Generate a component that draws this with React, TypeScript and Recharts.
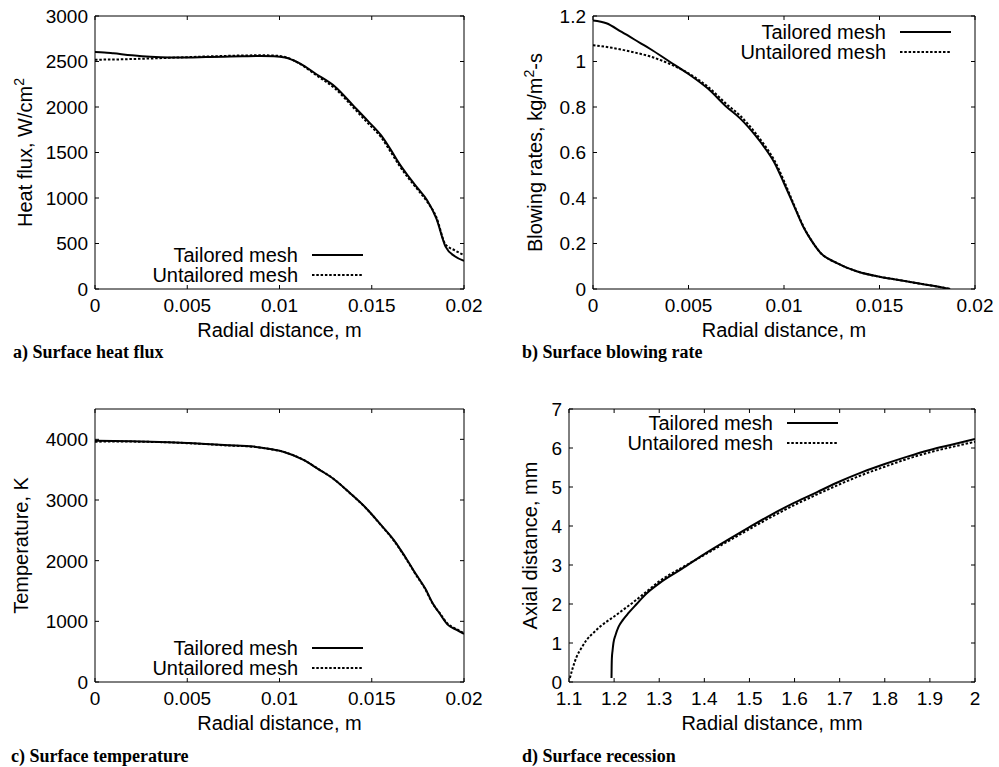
import { LineChart, Line, XAxis, YAxis, Legend, ReferenceLine } from 'recharts'

const SANS = '"Liberation Sans", Arial, Helvetica, sans-serif'
const SERIF = '"Liberation Serif", "Times New Roman", serif'
const TICK_FS = 19
const LABEL_FS = 20
const X_TM = 9 // gap between plot bottom and x tick labels
const Y_TM = 7 // gap between plot left and y tick labels
const TICK_LEN = 4

// a) surface heat flux
const heatTailoredX = [0, 0.0005, 0.001, 0.002, 0.003, 0.004, 0.005, 0.006, 0.007, 0.008, 0.009, 0.0097, 0.0103, 0.0111, 0.012, 0.013, 0.014, 0.0148, 0.0155, 0.016, 0.0165, 0.017, 0.0175, 0.018, 0.0185, 0.019, 0.0195, 0.02]
const heatTailoredY = [2605, 2600, 2590, 2568, 2552, 2545, 2545, 2549, 2553, 2557, 2560, 2558, 2545, 2480, 2360, 2225, 2015, 1845, 1690, 1540, 1375, 1235, 1105, 975, 775, 465, 360, 310]
const heatUntailoredX = [0, 0.001, 0.002, 0.003, 0.004, 0.005, 0.006, 0.007, 0.008, 0.009, 0.0097, 0.0103, 0.0111, 0.012, 0.013, 0.014, 0.0148, 0.0155, 0.016, 0.0165, 0.017, 0.0175, 0.018, 0.0185, 0.019, 0.0195, 0.02]
const heatUntailoredY = [2520, 2522, 2527, 2533, 2540, 2548, 2555, 2561, 2566, 2568, 2565, 2550, 2475, 2348, 2205, 1995, 1820, 1670, 1515, 1355, 1215, 1090, 960, 790, 490, 425, 372]

// b) surface blowing rate
const blowTailoredX = [0, 0.0007, 0.0015, 0.0025, 0.003, 0.004, 0.005, 0.006, 0.007, 0.0077, 0.0085, 0.009, 0.0095, 0.01, 0.0105, 0.011, 0.0115, 0.0119, 0.0128, 0.0138, 0.015, 0.016, 0.017, 0.0178, 0.0187]
const blowTailoredY = [1.18, 1.168, 1.13, 1.08, 1.055, 1.0, 0.945, 0.882, 0.8, 0.75, 0.675, 0.62, 0.555, 0.465, 0.37, 0.275, 0.205, 0.16, 0.113, 0.078, 0.054, 0.04, 0.025, 0.014, 0]
const blowUntailoredX = [0, 0.001, 0.002, 0.003, 0.004, 0.005, 0.006, 0.007, 0.0077, 0.0085, 0.009, 0.0095, 0.01, 0.0105, 0.011, 0.0115, 0.0119, 0.0128, 0.0138, 0.015, 0.016, 0.017, 0.0178, 0.0187]
const blowUntailoredY = [1.072, 1.06, 1.043, 1.022, 0.99, 0.948, 0.89, 0.812, 0.762, 0.686, 0.63, 0.565, 0.475, 0.375, 0.278, 0.205, 0.16, 0.113, 0.078, 0.054, 0.04, 0.025, 0.014, 0]

// c) surface temperature
const tempX = [0, 0.001, 0.002, 0.003, 0.004, 0.005, 0.006, 0.007, 0.0086, 0.0095, 0.0102, 0.0113, 0.0121, 0.0129, 0.0138, 0.0147, 0.0155, 0.0162, 0.0168, 0.0174, 0.0179, 0.0183, 0.0187, 0.0191, 0.0196, 0.02]
const tempTailoredY = [3975, 3972, 3968, 3962, 3953, 3940, 3925, 3905, 3880, 3840, 3795, 3660, 3510, 3355, 3120, 2865, 2590, 2340, 2070, 1775, 1540, 1300, 1120, 950, 860, 795]
const tempUntailoredY = [3960, 3965, 3963, 3958, 3950, 3937, 3922, 3902, 3877, 3838, 3795, 3662, 3512, 3355, 3118, 2860, 2585, 2330, 2060, 1765, 1530, 1295, 1130, 965, 870, 805]

// d) surface recession
const recTailoredX = [1.1942, 1.1945, 1.195, 1.1965, 1.1985, 1.203, 1.21, 1.22, 1.232, 1.25, 1.27, 1.3, 1.35, 1.4, 1.45, 1.5, 1.55, 1.6, 1.65, 1.7, 1.75, 1.8, 1.85, 1.9, 1.95, 2.0]
const recTailoredY = [0.1, 0.35, 0.6, 0.8, 1.0, 1.2, 1.42, 1.6, 1.77, 2.0, 2.25, 2.53, 2.9, 3.28, 3.63, 3.97, 4.3, 4.6, 4.87, 5.14, 5.38, 5.59, 5.78, 5.95, 6.09, 6.23]
const recUntailoredX = [1.102, 1.108, 1.117, 1.128, 1.139, 1.155, 1.169, 1.185, 1.2, 1.22, 1.243, 1.27, 1.3, 1.35, 1.4, 1.45, 1.5, 1.55, 1.6, 1.65, 1.7, 1.75, 1.8, 1.85, 1.9, 1.95, 2.0]
const recUntailoredY = [0.1, 0.35, 0.65, 0.88, 1.08, 1.27, 1.42, 1.56, 1.68, 1.85, 2.05, 2.3, 2.58, 2.93, 3.26, 3.59, 3.92, 4.24, 4.54, 4.81, 5.07, 5.31, 5.52, 5.72, 5.89, 6.03, 6.16]

// ticks
const radialTicks = [0, 0.005, 0.01, 0.015, 0.02]
const heatTicks = [0, 500, 1000, 1500, 2000, 2500, 3000]
const blowTicks = [0, 0.2, 0.4, 0.6, 0.8, 1, 1.2]
const tempTicks = [0, 1000, 2000, 3000, 4000]
const recXTicks = [1.1, 1.2, 1.3, 1.4, 1.5, 1.6, 1.7, 1.8, 1.9, 2]
const recYTicks = [0, 1, 2, 3, 4, 5, 6, 7]

const seriesNames = ['Tailored mesh', 'Untailored mesh']

const zip = (xs: number[], ys: number[]) => xs.map((x, i) => ({ x, y: ys[i] }))

// bottom tick: label + inward mark, and the mirrored mark on the top frame
const makeBottomTick = (plotTop: number) => ({ x, y, payload }: any) => {
  const base = y - X_TM
  return (
    <g>
      <line x1={x} x2={x} y1={base} y2={base - TICK_LEN} stroke="#000" strokeWidth={1} />
      <line x1={x} x2={x} y1={plotTop} y2={plotTop + TICK_LEN} stroke="#000" strokeWidth={1} />
      <text x={x} y={y} dy="0.72em" textAnchor="middle" fontFamily={SANS} fontSize={TICK_FS} fill="#000">
        {String(payload.value)}
      </text>
    </g>
  )
}

// left tick: label + inward mark, and the mirrored mark on the right frame
const makeLeftTick = (plotRight: number) => ({ x, y, payload }: any) => {
  const base = x + Y_TM
  return (
    <g>
      <line x1={base} x2={base + TICK_LEN} y1={y} y2={y} stroke="#000" strokeWidth={1} />
      <line x1={plotRight} x2={plotRight - TICK_LEN} y1={y} y2={y} stroke="#000" strokeWidth={1} />
      <text x={x} y={y} dy="0.36em" textAnchor="end" fontFamily={SANS} fontSize={TICK_FS} fill="#000">
        {String(payload.value)}
      </text>
    </g>
  )
}

function LegendBox({ payload }: any) {
  return (
    <div style={{ fontFamily: SANS, fontSize: LABEL_FS, color: '#000' }}>
      {(payload ?? []).map((e: any, i: number) => (
        <div key={i} style={{ display: 'flex', justifyContent: 'flex-end', alignItems: 'center', height: 20 }}>
          <span style={{ whiteSpace: 'nowrap', lineHeight: '20px' }}>{e.value}</span>
          <svg width={51} height={6} style={{ marginLeft: 14, display: 'block' }}>
            <line x1={0} x2={51} y1={3} y2={3} stroke="#000" strokeWidth={2}
              strokeDasharray={i === 0 ? undefined : '2.5 1.8'} />
          </svg>
        </div>
      ))}
    </div>
  )
}

interface PanelProps {
  left: number
  top: number
  width: number
  height: number
  margin: { top: number; right: number; bottom: number; left: number }
  yAxisW: number
  xAxisH: number
  xDomain: [number, number]
  xTicks: number[]
  yDomain: [number, number]
  yTicks: number[]
  xLabel: string
  yLabel: React.ReactNode
  yLabelGap: number
  tailored: { x: number; y: number }[]
  untailored: { x: number; y: number }[]
  legend: { left: number; top: number }
}

function Panel(p: PanelProps) {
  const plotTop = p.margin.top
  const plotRight = p.width - p.margin.right
  return (
    <div style={{ position: 'absolute', left: p.left, top: p.top }}>
      <LineChart width={p.width} height={p.height} margin={p.margin}>
        <XAxis
          dataKey="x" type="number" domain={p.xDomain} ticks={p.xTicks} interval={0}
          allowDataOverflow height={p.xAxisH} tickSize={0} tickMargin={X_TM} tickLine={false}
          tick={makeBottomTick(plotTop)} axisLine={{ stroke: '#000' }}
          label={{
            content: (lp: any) => {
              const vb = lp.viewBox
              return (
                <text x={vb.x + vb.width / 2} y={vb.y + 41} dy="0.36em" textAnchor="middle"
                  fontFamily={SANS} fontSize={LABEL_FS} fill="#000">{p.xLabel}</text>
              )
            },
          }}
        />
        <YAxis
          type="number" domain={p.yDomain} ticks={p.yTicks} interval={0} allowDataOverflow
          width={p.yAxisW} tickSize={0} tickMargin={Y_TM} tickLine={false}
          tick={makeLeftTick(plotRight)} axisLine={{ stroke: '#000' }}
          label={{
            content: (lp: any) => {
              const vb = lp.viewBox
              const cx = vb.x + vb.width - p.yLabelGap
              const cy = vb.y + vb.height / 2
              return (
                <text x={cx} y={cy} dy="0.36em" textAnchor="middle" transform={`rotate(-90, ${cx}, ${cy})`}
                  fontFamily={SANS} fontSize={LABEL_FS} fill="#000">{p.yLabel}</text>
              )
            },
          }}
        />
        {/* top and right sides of the frame */}
        <ReferenceLine y={p.yDomain[1]} stroke="#000" strokeWidth={1} ifOverflow="visible" />
        <ReferenceLine x={p.xDomain[1]} stroke="#000" strokeWidth={1} ifOverflow="visible" />
        <Legend
          layout="vertical" align="center" verticalAlign="middle" content={LegendBox}
          wrapperStyle={{ left: p.legend.left, top: p.legend.top, width: 230, right: 'auto', bottom: 'auto' }}
        />
        <Line data={p.tailored} dataKey="y" name={seriesNames[0]} type="monotone" stroke="#000"
          strokeWidth={2} dot={false} activeDot={false} isAnimationActive={false} />
        <Line data={p.untailored} dataKey="y" name={seriesNames[1]} type="monotone" stroke="#000"
          strokeWidth={2} strokeDasharray="2.5 1.8" dot={false} activeDot={false} isAnimationActive={false} />
      </LineChart>
    </div>
  )
}

function Caption({ left, top, children }: { left: number; top: number; children: React.ReactNode }) {
  return (
    <div style={{
      position: 'absolute', left, top, fontFamily: SERIF, fontWeight: 'bold',
      fontSize: 18, lineHeight: '22px', color: '#000', whiteSpace: 'nowrap',
    }}>
      {children}
    </div>
  )
}

export default function App() {
  return (
    <div style={{ position: 'fixed', left: 0, top: 0, width: 999, height: 767, background: '#fff', overflow: 'hidden' }}>
      <Panel
        left={0} top={0} width={500} height={345}
        margin={{ top: 16, right: 36, bottom: 0, left: 0 }} yAxisW={95} xAxisH={56}
        xDomain={[0, 0.02]} xTicks={radialTicks} yDomain={[0, 3000]} yTicks={heatTicks}
        xLabel="Radial distance, m"
        yLabel={<>Heat flux, W/cm<tspan dy={-8} fontSize={14}>2</tspan></>}
        yLabelGap={70}
        tailored={zip(heatTailoredX, heatTailoredY)}
        untailored={zip(heatUntailoredX, heatUntailoredY)}
        legend={{ left: 133, top: 245 }}
      />
      <Panel
        left={500} top={0} width={499} height={345}
        margin={{ top: 16, right: 24, bottom: 0, left: 0 }} yAxisW={93} xAxisH={56}
        xDomain={[0, 0.02]} xTicks={radialTicks} yDomain={[0, 1.2]} yTicks={blowTicks}
        xLabel="Radial distance, m"
        yLabel={<>Blowing rates, kg/m<tspan dy={-8} fontSize={14}>2</tspan><tspan dy={8}>-s</tspan></>}
        yLabelGap={58}
        tailored={zip(blowTailoredX, blowTailoredY)}
        untailored={zip(blowUntailoredX, blowUntailoredY)}
        legend={{ left: 221, top: 22 }}
      />
      <Panel
        left={0} top={383} width={500} height={355}
        margin={{ top: 26, right: 36, bottom: 0, left: 0 }} yAxisW={95} xAxisH={56}
        xDomain={[0, 0.02]} xTicks={radialTicks} yDomain={[0, 4500]} yTicks={tempTicks}
        xLabel="Radial distance, m"
        yLabel="Temperature, K"
        yLabelGap={74}
        tailored={zip(tempX, tempTailoredY)}
        untailored={zip(tempX, tempUntailoredY)}
        legend={{ left: 133, top: 255 }}
      />
      <Panel
        left={500} top={383} width={499} height={355}
        margin={{ top: 26, right: 24, bottom: 0, left: 0 }} yAxisW={69} xAxisH={56}
        xDomain={[1.1, 2]} xTicks={recXTicks} yDomain={[0, 7]} yTicks={recYTicks}
        xLabel="Radial distance, mm"
        yLabel="Axial distance, mm"
        yLabelGap={39}
        tailored={zip(recTailoredX, recTailoredY)}
        untailored={zip(recUntailoredX, recUntailoredY)}
        legend={{ left: 108, top: 30 }}
      />
      <Caption left={13} top={341}>a) Surface heat flux</Caption>
      <Caption left={522} top={341}>b) Surface blowing rate</Caption>
      <Caption left={11} top={745}>c) Surface temperature</Caption>
      <Caption left={522} top={745}>d) Surface recession</Caption>
    </div>
  )
}
